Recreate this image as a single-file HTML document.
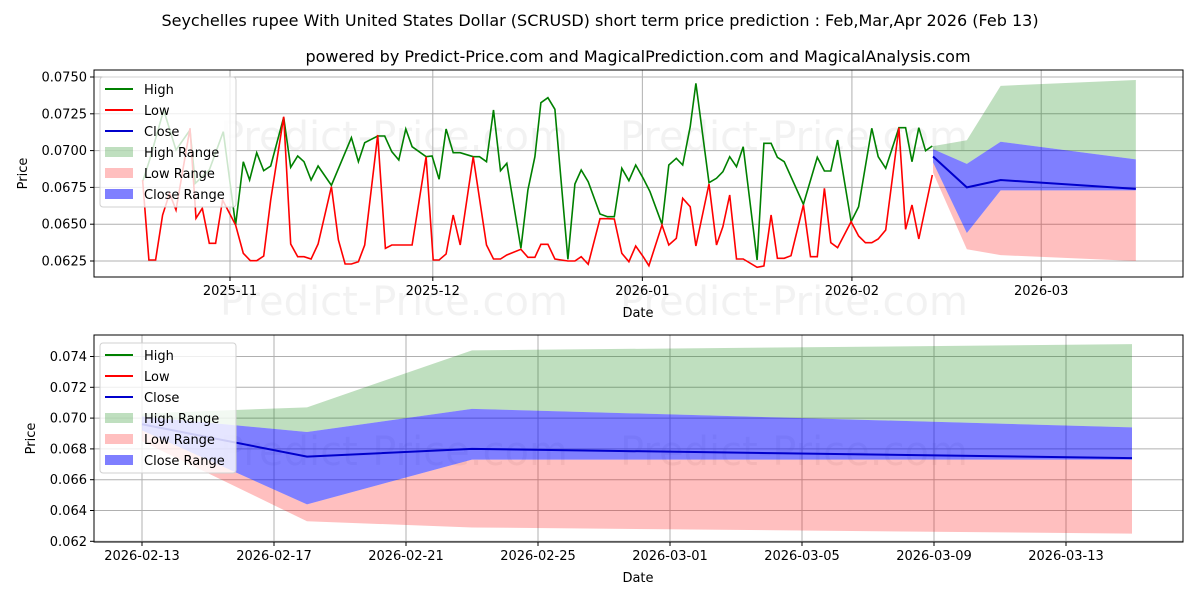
<!DOCTYPE html>
<html><head><meta charset="utf-8"><style>
body{margin:0;background:#fff;}
svg{display:block;font-family:"DejaVu Sans","Liberation Sans",sans-serif;}
</style></head><body>
<svg id="s" width="1200" height="600" viewBox="0 0 1200 600" xmlns="http://www.w3.org/2000/svg">
<rect width="1200" height="600" fill="#fff"/>
<text x="600" y="26" font-size="16" text-anchor="middle">Seychelles rupee With United States Dollar (SCRUSD) short term price prediction : Feb,Mar,Apr 2026 (Feb 13)</text>
<text x="638" y="62" font-size="16" text-anchor="middle">powered by Predict-Price.com and MagicalPrediction.com and MagicalAnalysis.com</text>
<g font-size="40" fill="#000" fill-opacity="0.05">
<text x="220" y="150">Predict-Price.com</text><text x="620" y="150">Predict-Price.com</text>
<text x="220" y="315">Predict-Price.com</text><text x="620" y="315">Predict-Price.com</text>
<text x="220" y="465">Predict-Price.com</text><text x="620" y="465">Predict-Price.com</text>
</g>
<g id="gtop"></g>
<g id="gbot"></g>
</svg>
<script>
(function(){
var NS="http://www.w3.org/2000/svg";
function el(p,t,a,txt){var e=document.createElementNS(NS,t);for(var k in a)e.setAttribute(k,a[k]);if(txt!==undefined)e.textContent=txt;p.appendChild(e);return e;}
var gT=document.getElementById('gtop'),gB=document.getElementById('gbot');
var L=94,R=1183,T=70,B=277;
function tY(p){return 77+(0.075-p)*14720;}
function tX(d){return 230+d*6.76;}
[0.0625,0.0650,0.0675,0.0700,0.0725,0.0750].forEach(function(v){var y=tY(v);el(gT,'line',{x1:L,x2:R,y1:y,y2:y,stroke:'#b0b0b0','stroke-width':1});el(gT,'line',{x1:L-4,x2:L,y1:y,y2:y,stroke:'#000'});el(gT,'text',{x:L-7,y:y+4.5,'font-size':13,'text-anchor':'end'},v.toFixed(4));});
[[0,'2025-11'],[30,'2025-12'],[61,'2026-01'],[92,'2026-02'],[120,'2026-03']].forEach(function(a){var x=tX(a[0]);el(gT,'line',{x1:x,x2:x,y1:T,y2:B,stroke:'#b0b0b0'});el(gT,'line',{x1:x,x2:x,y1:B,y2:B+4,stroke:'#000'});el(gT,'text',{x:x,y:B+18,'font-size':13,'text-anchor':'middle'},a[1]);});
var fd=[0,5,10,30],
 hu=[0.0703,0.0707,0.0744,0.0748],hl=[0.0701,0.0691,0.0706,0.0694],cl=[0.0696,0.0675,0.0680,0.0674],cll=[0.0692,0.0644,0.0673,0.0673],ll=[0.0685,0.0633,0.0629,0.0625];
function band(g,fx,fy,d0,up,lo,col,op){var pts=[];for(var i=0;i<fd.length;i++)pts.push(fx(d0+fd[i])+','+fy(up[i]));for(var i=fd.length-1;i>=0;i--)pts.push(fx(d0+fd[i])+','+fy(lo[i]));el(g,'polygon',{points:pts.join(' '),fill:col,'fill-opacity':op});}
function fc(g,fx,fy,d0){band(g,fx,fy,d0,hu,hl,'#008000',0.25);band(g,fx,fy,d0,cll,ll,'#ff0000',0.25);band(g,fx,fy,d0,hl,cll,'#0000ff',0.5);
var p=[];for(var i=0;i<fd.length;i++)p.push(fx(d0+fd[i])+','+fy(cl[i]));el(g,'polyline',{points:p.join(' '),fill:'none',stroke:'#0000cc','stroke-width':2});}
fc(gT,tX,tY,104);
function z1(a){return a.map(function(p){return (90+p[0]/2.85).toFixed(1)+','+(60+p[1]/3).toFixed(1);});}
function z2(a){return a.map(function(p){return (600+p[0]/2.66).toFixed(1)+','+(60+p[1]/3).toFixed(1);});}
var g1=[[150,365],[170,300],[210,150],[245,270],[285,210],[300,370],[340,330],[380,215],[415,495],[437,305],[455,360],[475,278],[495,332],[515,318],[552,172],[572,322],[592,288],[610,305],[630,360],[650,318],[688,376],[745,233],[765,305],[783,248],[820,228],[840,228],[860,275],[880,300],[900,207],[918,260],[958,290],[975,288],[995,358],[1015,207],[1035,278],[1055,278],[1092,290],[1110,290],[1130,305],[1150,150],[1170,332],[1188,310],[1228,565],[1248,390],[1268,290],[1285,128],[1305,113],[1325,148],[1362,598],[1382,372],[1400,330],[1420,365]];
var g2=[[0,462],[20,470],[38,470],[58,325],[77,362],[95,315],[115,355],[133,395],[165,493],[183,315],[203,295],[220,315],[240,200],[255,70],[290,368],[310,355],[327,335],[345,290],[363,320],[381,260],[418,600],[436,250],[455,250],[472,292],[490,305],[541,433],[578,292],[597,333],[614,333],[632,240],[668,485],[688,440],[723,205],[740,290],[760,325],[795,203],[813,203],[830,305],[848,203],[866,272],[884,258]];
var r1=[[150,360],[168,600],[187,600],[207,465],[227,400],[245,450],[285,205],[302,475],[320,445],[340,550],[358,550],[378,420],[415,495],[437,580],[457,602],[475,602],[495,588],[515,420],[552,170],[572,552],[592,590],[610,590],[630,597],[650,552],[688,380],[708,540],[727,612],[745,612],[765,605],[783,555],[820,225],[842,565],[860,555],[880,555],[918,555],[958,290],[978,600],[995,600],[1015,582],[1035,465],[1055,555],[1092,290],[1130,555],[1150,597],[1170,597],[1188,585],[1228,568],[1248,592],[1268,592],[1285,553],[1305,553],[1325,597],[1362,603],[1382,603],[1400,590],[1420,613]];
var r2=[[0,476],[20,476],[38,477],[58,580],[77,605],[95,558],[115,590],[130,617],[165,495],[183,555],[203,535],[220,415],[240,440],[255,558],[290,372],[310,555],[327,500],[345,405],[363,597],[381,597],[418,622],[436,618],[455,465],[472,595],[490,595],[508,587],[541,435],[560,590],[578,590],[597,385],[614,548],[632,563],[668,485],[688,528],[706,548],[723,548],[740,537],[760,510],[795,203],[813,508],[830,435],[848,537],[884,345]];
el(gT,'polyline',{points:z1(g1).concat(z2(g2)).join(' '),fill:'none',stroke:'#008000','stroke-width':1.6});
el(gT,'polyline',{points:z1(r1).concat(z2(r2)).join(' '),fill:'none',stroke:'#ff0000','stroke-width':1.6});
el(gT,'rect',{x:L,y:T,width:R-L,height:B-T,fill:'none',stroke:'#000','stroke-width':1});
el(gT,'text',{x:27,y:(T+B)/2,'font-size':13,'text-anchor':'middle',transform:'rotate(-90 27 '+(T+B)/2+')'},'Price');
el(gT,'text',{x:638,y:317,'font-size':13,'text-anchor':'middle'},'Date');
var T2=335,B2=542;
function bY(p){return 356.5+(0.074-p)*15400;}
function bX(d){return 142+d*33;}
[0.062,0.064,0.066,0.068,0.070,0.072,0.074].forEach(function(v){var y=bY(v);el(gB,'line',{x1:L,x2:R,y1:y,y2:y,stroke:'#b0b0b0'});el(gB,'line',{x1:L-4,x2:L,y1:y,y2:y,stroke:'#000'});el(gB,'text',{x:L-7,y:y+4.5,'font-size':13,'text-anchor':'end'},v.toFixed(3));});
['2026-02-13','2026-02-17','2026-02-21','2026-02-25','2026-03-01','2026-03-05','2026-03-09','2026-03-13'].forEach(function(s,i){var x=bX(i*4);el(gB,'line',{x1:x,x2:x,y1:T2,y2:B2,stroke:'#b0b0b0'});el(gB,'line',{x1:x,x2:x,y1:B2,y2:B2+4,stroke:'#000'});el(gB,'text',{x:x,y:B2+18,'font-size':13,'text-anchor':'middle'},s);});
fc(gB,bX,bY,0);
el(gB,'rect',{x:L,y:T2,width:R-L,height:B2-T2,fill:'none',stroke:'#000'});
el(gB,'text',{x:35,y:(T2+B2)/2,'font-size':13,'text-anchor':'middle',transform:'rotate(-90 35 '+(T2+B2)/2+')'},'Price');
el(gB,'text',{x:638,y:582,'font-size':13,'text-anchor':'middle'},'Date');
function legend(g,y0){el(g,'rect',{x:100,y:y0,width:136,height:130,rx:3,fill:'#fff','fill-opacity':0.8,stroke:'#d0d0d0'});
var it=[['l','#008000','High'],['l','#ff0000','Low'],['l','#0000cc','Close'],['p','rgba(0,128,0,0.25)','High Range'],['p','rgba(255,0,0,0.25)','Low Range'],['p','rgba(0,0,255,0.5)','Close Range']];
it.forEach(function(a,i){var y=y0+12+i*21;if(a[0]=='l')el(g,'line',{x1:105,x2:133,y1:y,y2:y,stroke:a[1],'stroke-width':2});else el(g,'rect',{x:105,y:y-5,width:28,height:10,fill:a[1]});el(g,'text',{x:144,y:y+5,'font-size':13},a[2]);});}
legend(gT,77);legend(gB,343);
})();
</script>
</body></html>
